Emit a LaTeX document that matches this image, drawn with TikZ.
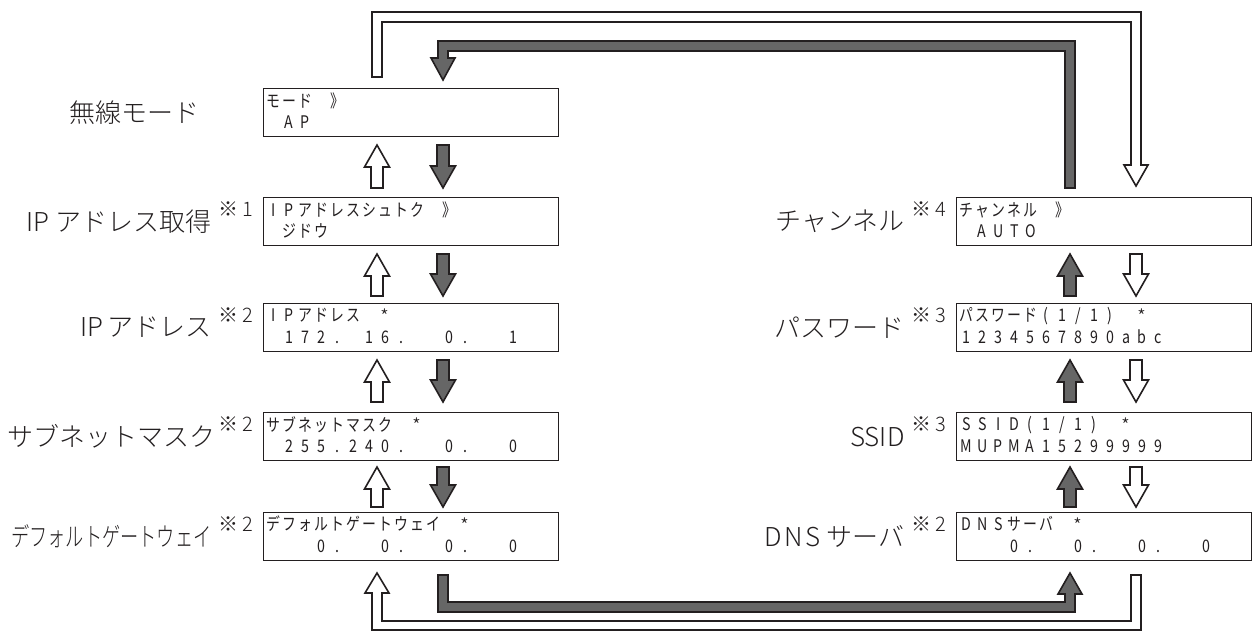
\documentclass[tikz,border=0pt]{standalone}
\usepackage{fontspec}
\usepackage{graphicx}
\IfFontExistsTF{Noto Sans CJK JP Light}
  {\setmainfont{Noto Sans CJK JP Light}}
  {\setmainfont{Noto Sans CJK JP}}
\newfontfamily\lcdfont{Noto Sans CJK JP}
\usetikzlibrary{calc}
\definecolor{arrgray}{HTML}{666666}
\definecolor{ink}{HTML}{231F20}

\newlength\lcdcell \setlength\lcdcell{12pt}
\def\lcdstr#1{\lcdloop#1\relax}
\def\lcdloop#1{\ifx\relax#1\else\lcdch{#1}\expandafter\lcdloop\fi}
\def\lcdch#1{\makebox[\lcdcell][c]{%
  \ifx~#1\else
  \ifx*#1\raisebox{-0.3ex}{\rmfamily\scalebox{1.15}{*}}\else
  \ifnum`#1<128 \scalebox{0.82}[1]{#1}\else\scalebox{0.8}[1]{#1}\fi\fi\fi}}

\newcommand\blkup[4]{\draw[#4] ({#1-6},#3) -- ({#1-6},{#2+22}) -- ({#1-12.5},{#2+22}) -- (#1,#2) -- ({#1+12.5},{#2+22}) -- ({#1+6},{#2+22}) -- ({#1+6},#3) -- cycle;}
\newcommand\blkdown[4]{\draw[#4] ({#1-6},#2) -- ({#1-6},{#3-22}) -- ({#1-12.5},{#3-22}) -- (#1,#3) -- ({#1+12.5},{#3-22}) -- ({#1+6},{#3-22}) -- ({#1+6},#2) -- cycle;}

\tikzset{
  lcdbox/.style={draw=ink, line width=0.8pt, fill=white, minimum width=221.25pt, minimum height=36pt, inner sep=0pt, anchor=north west},
  lcdtxt/.style={inner sep=0pt, anchor=west, font=\lcdfont\fontsize{13pt}{14pt}\selectfont, text=ink},
  lbl/.style={inner sep=0pt, anchor=east, font=\fontsize{19.5pt}{22pt}\selectfont, text=ink},
  note/.style={inner sep=0pt, anchor=east, font=\fontsize{15pt}{17pt}\selectfont, text=ink},
  blkw/.style={draw=ink, line width=1.2pt, fill=white, line join=miter},
  blkg/.style={draw=ink, line width=1.2pt, fill=arrgray, line join=miter},
}

\begin{document}
\begin{tikzpicture}[x=0.75pt, y=-0.75pt]
\useasboundingbox (0,0) rectangle (1257,636);

% ---------- boxes ----------
\node[lcdbox] (mode) at (263,88) {};
\node[lcdbox] (ipget) at (263,197) {};
\node[lcdbox] (ipad) at (263,303) {};
\node[lcdbox] (mask) at (263,412) {};
\node[lcdbox] (gw) at (263,512) {};
\node[lcdbox] (ch) at (956,197) {};
\node[lcdbox] (pw) at (956,303) {};
\node[lcdbox] (ssid) at (956,412) {};
\node[lcdbox] (dns) at (956,512) {};

% ---------- LCD texts ----------
\node[lcdtxt] (t0a) at ($(mode.north west)+(2,13)$) {\lcdstr{モード~》}};
\node[lcdtxt] (t0b) at ($(mode.north west)+(2,34)$) {\lcdstr{~AP}};
\node[lcdtxt] (t1a) at ($(ipget.north west)+(2,13)$) {\lcdstr{IPアドレスシュトク~》}};
\node[lcdtxt] (t1b) at ($(ipget.north west)+(2,34)$) {\lcdstr{~ジドウ}};
\node[lcdtxt] (t2a) at ($(ipad.north west)+(2,13)$) {\lcdstr{IPアドレス~*}};
\node[lcdtxt] (t2b) at ($(ipad.north west)+(2,34)$) {\lcdstr{~172.~16.~~0.~~1}};
\node[lcdtxt] (t3a) at ($(mask.north west)+(2,13)$) {\lcdstr{サブネットマスク~*}};
\node[lcdtxt] (t3b) at ($(mask.north west)+(2,34)$) {\lcdstr{~255.240.~~0.~~0}};
\node[lcdtxt] (t4a) at ($(gw.north west)+(2,13)$) {\lcdstr{デフォルトゲートウェイ~*}};
\node[lcdtxt] (t4b) at ($(gw.north west)+(2,34)$) {\lcdstr{~~~0.~~0.~~0.~~0}};
\node[lcdtxt] (r1a) at ($(ch.north west)+(2,13)$) {\lcdstr{チャンネル~》}};
\node[lcdtxt] (r1b) at ($(ch.north west)+(2,34)$) {\lcdstr{~AUTO}};
\node[lcdtxt] (r2a) at ($(pw.north west)+(2,13)$) {\lcdstr{パスワード(1/1)~*}};
\node[lcdtxt] (r2b) at ($(pw.north west)+(2,34)$) {\lcdstr{1234567890abc}};
\node[lcdtxt] (r3a) at ($(ssid.north west)+(2,13)$) {\lcdstr{SSID(1/1)~*}};
\node[lcdtxt] (r3b) at ($(ssid.north west)+(2,34)$) {\lcdstr{MUPMA15299999}};
\node[lcdtxt] (r4a) at ($(dns.north west)+(2,13)$) {\lcdstr{DNSサーバ~*}};
\node[lcdtxt] (r4b) at ($(dns.north west)+(2,34)$) {\lcdstr{~~~0.~~0.~~0.~~0}};

% ---------- labels ----------
\node[lbl] (lmode) at ($(mode.west)+(-63,0)$) {無線モード};

\node[note] (n1) at ($(ipget.north west)+(-10,12)$) {※\,1};
\node[lbl, xshift=-5pt] (l1) at (n1.west |- ipget.west) {IP アドレス取得};
\node[note] (n2) at ($(ipad.north west)+(-10,12)$) {※\,2};
\node[lbl, xshift=-5pt] (l2) at (n2.west |- ipad.west) {IP\kern3pt アドレス};
\node[note] (n3) at ($(mask.north west)+(-10,12)$) {※\,2};
\node[lbl, xshift=-2pt] (l3) at (n3.west |- mask.west) {サブネットマスク};
\node[note] (n4) at ($(gw.north west)+(-10,12)$) {※\,2};
\node[lbl, xshift=-5pt] (l4) at (n4.west |- gw.west) {\scalebox{0.7}[1]{デフォルトゲートウェイ}};

\node[note] (m1) at ($(ch.north west)+(-10,12)$) {※\,4};
\node[lbl, xshift=-5pt] (k1) at (m1.west |- ch.west) {チャンネル};
\node[note] (m2) at ($(pw.north west)+(-10,12)$) {※\,3};
\node[lbl, xshift=-5pt] (k2) at (m2.west |- pw.west) {パスワード};
\node[note] (m3) at ($(ssid.north west)+(-10,12)$) {※\,3};
\node[lbl, xshift=-5pt] (k3) at (m3.west |- ssid.west) {SSID};
\node[note] (m4) at ($(dns.north west)+(-10,12)$) {※\,2};
\node[lbl, xshift=-5pt] (k4) at (m4.west |- dns.west) {D\kern2pt N\kern2pt S サーバ};

% ---------- short arrows, left column ----------
\blkup{377}{145}{188}{blkw}
\blkdown{443}{145}{188}{blkg}
\blkup{377}{254}{296}{blkw}
\blkdown{443}{254}{296}{blkg}
\blkup{377}{360}{402}{blkw}
\blkdown{443}{360}{402}{blkg}
\blkup{377}{467}{507}{blkw}
\blkdown{443}{467}{507}{blkg}

% ---------- short arrows, right column ----------
\blkup{1070}{254}{296}{blkg}
\blkdown{1136}{254}{296}{blkw}
\blkup{1070}{360}{402}{blkg}
\blkdown{1136}{360}{402}{blkw}
\blkup{1070}{467}{507}{blkg}
\blkdown{1136}{467}{507}{blkw}

% ---------- long arrows, top ----------
\draw[blkw] (372,77) -- (372,12) -- (1141,12) -- (1141,165) -- (1148,165) -- (1136,186)
  -- (1124,165) -- (1131,165) -- (1131,22) -- (382,22) -- (382,77) -- cycle;
\draw[blkg] (1065,188) -- (1065,51) -- (448,51) -- (448,58) -- (455,58) -- (443,80)
  -- (431,58) -- (438,58) -- (438,41) -- (1075,41) -- (1075,188) -- cycle;

% ---------- long arrows, bottom ----------
\draw[blkg] (438,575) -- (438,612) -- (1075,612) -- (1075,594) -- (1082,594) -- (1070,573)
  -- (1058,594) -- (1065,594) -- (1065,602) -- (448,602) -- (448,575) -- cycle;
\draw[blkw] (1141,575) -- (1141,630) -- (372,630) -- (372,593) -- (365,593) -- (377,573)
  -- (389,593) -- (382,593) -- (382,621) -- (1131,621) -- (1131,575) -- cycle;
\end{tikzpicture}
\end{document}
